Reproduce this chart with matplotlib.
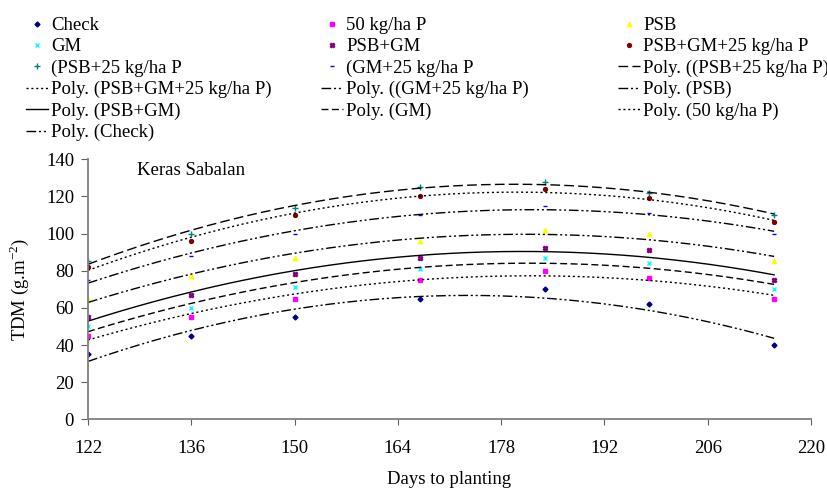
import numpy as np
import matplotlib
matplotlib.use('Agg')
import matplotlib.pyplot as plt

plt.rcParams['font.family'] = ['Liberation Serif', 'DejaVu Serif']
plt.rcParams['mathtext.fontset'] = 'custom'
plt.rcParams['mathtext.rm'] = 'Liberation Serif'

# sampling days
days = [122, 136, 150, 167, 184, 198, 215]

# TDM values (g.m-2)
check = [35, 45, 55, 65, 70, 62, 40]
p50 = [45, 55, 65, 75, 80, 76, 65]
psb = [65, 77, 87, 96, 102, 100, 85]
gm = [50, 60, 71, 81, 87, 84, 70]
psb_gm = [55, 67, 78, 87, 92, 91, 75]
psb_gm_p25 = [82, 96, 110, 120, 124, 119, 106]
psb_p25 = [85, 100, 114, 125, 128, 122, 110]
gm_p25 = [75, 88, 100, 110, 115, 111, 100]

series = [
    # label, values, marker, size, colour, trend style
    ('Check', check, 'D', 2.5, '#000080', (0, (7, 2, 1.5, 2, 1.5, 2))),
    ('50 kg/ha P', p50, 's', 2.8, '#FF00FF', (0, (1.5, 2))),
    ('PSB', psb, '^', 3.2, '#FFFF00', (0, (7, 2, 1.5, 2, 1.5, 2))),
    ('GM', gm, 'x', 3.2, '#00FFFF', (0, (5, 2.5))),
    ('PSB+GM', psb_gm, 'X', 3.2, '#800080', '-'),
    ('PSB+GM+25 kg/ha P', psb_gm_p25, 'o', 2.8, '#800000', (0, (1.5, 2))),
    ('(PSB+25 kg/ha P', psb_p25, '+', 3.8, '#008080', (0, (7, 3))),
    ('(GM+25 kg/ha P', gm_p25, '_', 3.0, '#0000FF', (0, (7, 2, 1.5, 2, 1.5, 2))),
]

fig = plt.figure(figsize=(8.28, 4.92), dpi=100)
ax = fig.add_axes([88/828, 1-419.3/492, 723/828, 260/492])

xs = np.linspace(days[0], days[-1], 200)
pts = {}
trends = {}
for label, vals, mk, ms, col, ls in series:
    pts[label], = ax.plot(days, vals, linestyle='none', marker=mk, color=col,
                          markersize=ms, markeredgewidth=1.0, label=label)
    # Excel style 2nd order polynomial trendline
    coef = np.polyfit(days, vals, 2)
    trends[label], = ax.plot(xs, np.polyval(coef, xs), color='black', lw=1.0,
                             linestyle=ls, label='Poly. (%s)' % label)
trends['(PSB+25 kg/ha P'].set_label('Poly. ((PSB+25 kg/ha P)')
trends['(GM+25 kg/ha P'].set_label('Poly. ((GM+25 kg/ha P)')

ax.set_xlim(122, 220)
ax.set_ylim(0, 140)
ax.set_xticks(np.arange(122, 221, 14))
ax.set_yticks(np.arange(0, 141, 20))
for s in ['top', 'right']:
    ax.spines[s].set_visible(False)
for s in ['left', 'bottom']:
    ax.spines[s].set_color('#808080')
    ax.spines[s].set_linewidth(1.3)
ax.tick_params(axis='both', direction='out', color='#606060', labelsize=13.5)
ax.tick_params(axis='x', length=4, pad=11)
ax.tick_params(axis='y', length=5, pad=5)

ax.text(0.068, 0.958, 'Keras Sabalan', transform=ax.transAxes,
        fontsize=13.5, va='center', ha='left')
ax.set_xlabel('Days to planting', fontsize=13.5, va='center')
ax.xaxis.set_label_coords(0.5, (419.3-480)/260)
ax.set_ylabel(r'TDM (g.m$^{-2}$)', fontsize=13.5, va='center')
ax.yaxis.set_label_coords((19-88)/723, 0.5)

# legend, filled row by row in three columns
cols = [
    [pts['Check'], pts['GM'], pts['(PSB+25 kg/ha P'], trends['PSB+GM+25 kg/ha P'],
     trends['PSB+GM'], trends['Check']],
    [pts['50 kg/ha P'], pts['PSB+GM'], pts['(GM+25 kg/ha P'], trends['(GM+25 kg/ha P'],
     trends['GM']],
    [pts['PSB'], pts['PSB+GM+25 kg/ha P'], trends['(PSB+25 kg/ha P'], trends['PSB'],
     trends['50 kg/ha P']],
]
xpos = [26, 321, 618]
for hs, x0 in zip(cols, xpos):
    fig.legend(handles=hs, loc='upper left', bbox_to_anchor=(x0/828, 1-17/492),
               frameon=False, fontsize=13.5, handlelength=1.15, handletextpad=0.2,
               labelspacing=0.22, borderpad=0, borderaxespad=0, markerscale=1.0)

plt.savefig('out.png', dpi=100)
